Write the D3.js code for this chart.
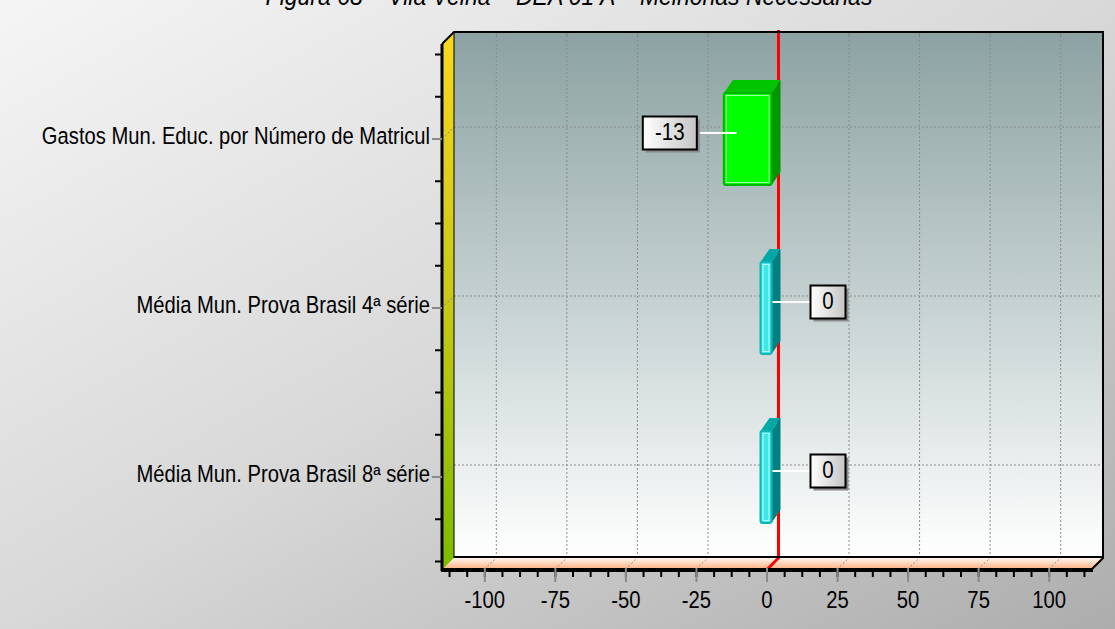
<!DOCTYPE html>
<html>
<head>
<meta charset="utf-8">
<script src="https://cdn.jsdelivr.net/npm/d3@7"></script>
<style>
  html, body { margin: 0; padding: 0; background: #ffffff; }
  svg { display: block; }
  text { font-family: Arial, "Liberation Sans", sans-serif; }
</style>
</head>
<body>
<svg id="chart" width="1115" height="629"></svg>
<script>
// ---- data ----
const titleText = "Figura 68 – Vila Velha – DEA 01 A – Melhorias Necessárias";
const categories = [
  "Gastos Mun. Educ. por Número de Matricul",
  "Média Mun. Prova Brasil 4ª série",
  "Média Mun. Prova Brasil 8ª série"
];
const values = [-13, 0, 0];
const xTicks = [-100, -75, -50, -25, 0, 25, 50, 75, 100];
const xDomain = [-115, 115];

// ---- styles ----
const barPalette = [
  { front: "#00ff00", edge: "#00b400", light: "#9dff9d", top: "#00c400", side: "#009600" },
  { front: "#3ee6e6", edge: "#12b4b4", light: "#b4ffff", top: "#00a8a8", side: "#008080" },
  { front: "#3ee6e6", edge: "#12b4b4", light: "#b4ffff", top: "#00a8a8", side: "#008080" }
];
const SY = 1.15;               // vertical stretch applied to all text
const W = 1115, H = 629;
const frontLeft = 442, frontRight = 1091, frontTop = 44, frontBottom = 570;
const DX = 12, DY = -12;       // wall depth offset
const BDX = 9, BDY = -13;      // bar depth offset

const svg = d3.select("#chart");
const defs = svg.append("defs");

function linGrad(id, x1, y1, x2, y2, stops) {
  const g = defs.append("linearGradient").attr("id", id)
    .attr("x1", x1).attr("y1", y1).attr("x2", x2).attr("y2", y2);
  stops.forEach(s => g.append("stop").attr("offset", s[0]).attr("stop-color", s[1]));
}
linGrad("bg", 0, 0, 1, 1, [[0, "#f5f5f5"], [0.5, "#d8d8d8"], [1, "#adadad"]]);
linGrad("wall", 0, 0, 0, 1, [[0, "#8ca2a2"], [0.5, "#c4d0d0"], [1, "#ffffff"]]);
linGrad("side", 0, 0, 0, 1, [[0, "#f8d820"], [0.5, "#c8c818"], [1, "#7cbc00"]]);
linGrad("floor", 0, 0, 0, 1, [[0, "#fff6ee"], [1, "#ffaa7a"]]);
linGrad("lbl", 0, 0, 1, 0, [[0, "#ffffff"], [1, "#c4c4c4"]]);

// ---- scales ----
const x = d3.scaleLinear().domain(xDomain).range([frontLeft, frontRight]);
const y = d3.scaleBand().domain(categories).range([54.5, 561.5]).padding(0);
const bw = y.bandwidth();
const cy = c => y(c) + bw / 2;

// ---- background ----
svg.append("rect").attr("width", W).attr("height", H).attr("fill", "url(#bg)");

// title (only its lower part falls inside the page)
svg.append("text")
  .attr("transform", `translate(569,5) scale(1,${SY})`)
  .attr("text-anchor", "middle")
  .attr("font-size", 23).attr("font-style", "italic")
  .attr("fill", "#000").text(titleText);

// ---- walls ----
const backL = frontLeft + DX, backR = frontRight + DX, backT = frontTop + DY, backB = frontBottom + DY;
svg.append("rect").attr("x", backL).attr("y", backT)
  .attr("width", backR - backL).attr("height", backB - backT).attr("fill", "url(#wall)");
svg.append("polygon")
  .attr("points", [[frontLeft, frontTop], [backL, backT], [backL, backB], [frontLeft, frontBottom]].join(" "))
  .attr("fill", "url(#side)");
svg.append("polygon")
  .attr("points", [[frontLeft, frontBottom], [backL, backB], [backR, backB], [frontRight, frontBottom]].join(" "))
  .attr("fill", "url(#floor)");

// ---- grid ----
const grid = svg.append("g").attr("stroke", "#8c8c8c").attr("stroke-width", 1)
  .attr("stroke-dasharray", "2,2").attr("fill", "none");
xTicks.filter(v => v !== 0).forEach(v => {
  const xb = x(v) + DX;
  grid.append("line").attr("x1", xb).attr("x2", xb).attr("y1", backT).attr("y2", backB);
  grid.append("line").attr("x1", x(v)).attr("y1", frontBottom - 1).attr("x2", xb).attr("y2", backB);
});
categories.forEach(c => {
  const yf = cy(c);
  grid.append("line").attr("x1", backL).attr("x2", backR).attr("y1", yf + DY).attr("y2", yf + DY);
  grid.append("line").attr("x1", frontLeft).attr("y1", yf).attr("x2", backL).attr("y2", yf + DY);
});
// small marks along the top edge of the back wall
xTicks.filter(v => v !== 0).forEach(v => {
  svg.append("line").attr("x1", x(v) + DX).attr("x2", x(v) + DX)
    .attr("y1", backT).attr("y2", backT + 4).attr("stroke", "#808080");
});

// ---- zero line ----
svg.append("polyline")
  .attr("points", [[x(0) + DX, backT - 2], [x(0) + DX, backB], [x(0), frontBottom]].join(" "))
  .attr("fill", "none").attr("stroke", "#ff0000").attr("stroke-width", 3);

// ---- frame ----
const frame = svg.append("g").attr("stroke", "#000").attr("fill", "none");
frame.append("polyline").attr("stroke-width", 2)
  .attr("points", [[frontLeft, frontTop], [backL, backT], [backR, backT], [backR, backB], [frontRight, frontBottom]].join(" "));
frame.append("line").attr("stroke-width", 1).attr("x1", backL).attr("x2", backL).attr("y1", backT).attr("y2", backB);
frame.append("line").attr("stroke-width", 2).attr("x1", backL).attr("x2", backR).attr("y1", backB - 1).attr("y2", backB - 1);
frame.append("line").attr("stroke-width", 3).attr("x1", frontLeft).attr("x2", frontLeft).attr("y1", frontTop).attr("y2", frontBottom + 1);
frame.append("line").attr("stroke-width", 4).attr("x1", frontLeft - 1).attr("x2", frontRight + 2).attr("y1", frontBottom).attr("y2", frontBottom);

// ---- bars ----
const bars = svg.append("g");
categories.forEach((c, i) => {
  const v = values[i], p = barPalette[i];
  const yc = cy(c);
  const top = yc - 46, bot = yc + 46;
  const L = Math.min(x(v), x(0)) - 6;
  const R = Math.max(x(v), x(0)) + 5;
  const g = bars.append("g");
  g.append("polygon").attr("fill", p.side)
    .attr("points", [[R, top], [R + BDX, top + BDY], [R + BDX, bot + BDY], [R, bot]].join(" "));
  g.append("polygon").attr("fill", p.top)
    .attr("points", [[L, top], [L + BDX, top + BDY], [R + BDX, top + BDY], [R, top]].join(" "));
  g.append("rect").attr("x", L).attr("y", top).attr("width", R - L).attr("height", bot - top)
    .attr("rx", 2).attr("fill", p.front).attr("stroke", p.edge).attr("stroke-width", 2);
  g.append("rect").attr("x", L + 2.5).attr("y", top + 2.5).attr("width", R - L - 5).attr("height", bot - top - 5)
    .attr("fill", "none").attr("stroke", p.light).attr("stroke-width", 1);
});

// ---- value labels ----
const labels = svg.append("g");
categories.forEach((c, i) => {
  const v = values[i];
  const yc = cy(c) - 6;
  const L = Math.min(x(v), x(0)) - 6;
  const R = Math.max(x(v), x(0)) + 5;
  const txt = String(v);
  const g = labels.append("g");
  const t = g.append("text").attr("font-size", 20.5).attr("text-anchor", "middle").text(txt);
  const tw = t.node().getComputedTextLength();
  const bwid = Math.round(tw + 24), bh = 33;
  let anchor, bx;
  if (v < 0) { anchor = L + 13; bx = anchor - 40 - bwid; }
  else { anchor = R + 1; bx = anchor + 38; }
  const lineEnd = v < 0 ? bx + bwid : bx;
  g.insert("line", "text").attr("x1", anchor).attr("x2", lineEnd).attr("y1", yc).attr("y2", yc)
    .attr("stroke", "#ffffff").attr("stroke-width", 2);
  g.insert("rect", "text").attr("x", bx + 3).attr("y", yc - bh / 2 + 3).attr("width", bwid).attr("height", bh)
    .attr("fill", "#8a8a8a");
  g.insert("rect", "text").attr("x", bx).attr("y", yc - bh / 2).attr("width", bwid).attr("height", bh)
    .attr("fill", "url(#lbl)").attr("stroke", "#000").attr("stroke-width", 2);
  t.attr("transform", `translate(${bx + bwid / 2},${yc + 7}) scale(1,${SY})`);
});

// ---- x axis ----
const minorTicks = d3.range(-112.5, 112.5 + 0.01, 6.25);
const xMinor = svg.append("g").attr("transform", `translate(0,${frontBottom + 1})`)
  .call(d3.axisBottom(x).tickValues(minorTicks).tickSize(6).tickFormat(""));
xMinor.select(".domain").remove();
xMinor.selectAll(".tick line").attr("stroke", "#000").attr("stroke-width", 2);

const xMajor = svg.append("g").attr("transform", `translate(0,${frontBottom - 2})`)
  .call(d3.axisBottom(x).tickValues(xTicks).tickSize(14).tickFormat(d => String(d)));
xMajor.select(".domain").remove();
xMajor.selectAll(".tick line").attr("stroke", "#8a8a8a").attr("stroke-width", 2);
xMajor.selectAll(".tick text")
  .attr("y", (608 - (frontBottom - 2)) / SY).attr("dy", 0)
  .attr("transform", `scale(1,${SY})`)
  .attr("font-size", 20.3).attr("fill", "#000")
  .attr("font-family", "Arial, 'Liberation Sans', sans-serif");

// ---- y axis ----
const yMinorPos = [];
categories.forEach(c => { for (let k = 0; k < 4; k++) yMinorPos.push(y(c) + k * bw / 4); });
yMinorPos.push(y(categories[categories.length - 1]) + bw);
const yMinor = svg.append("g");
yMinorPos.forEach(p => {
  yMinor.append("line").attr("x1", frontLeft - 7).attr("x2", frontLeft).attr("y1", p).attr("y2", p)
    .attr("stroke", "#000").attr("stroke-width", 2);
});

const yAxis = svg.append("g").attr("transform", `translate(${frontLeft},0)`)
  .call(d3.axisLeft(y).tickSize(10).tickPadding(2));
yAxis.select(".domain").remove();
yAxis.selectAll(".tick line").attr("stroke", "#8a8a8a").attr("stroke-width", 2);
yAxis.selectAll(".tick text")
  .attr("x", -12).attr("y", 5 / SY).attr("dy", 0)
  .attr("transform", `scale(1,${SY})`)
  .attr("font-size", 20.2).attr("fill", "#000")
  .attr("font-family", "Arial, 'Liberation Sans', sans-serif");
</script>
</body>
</html>
